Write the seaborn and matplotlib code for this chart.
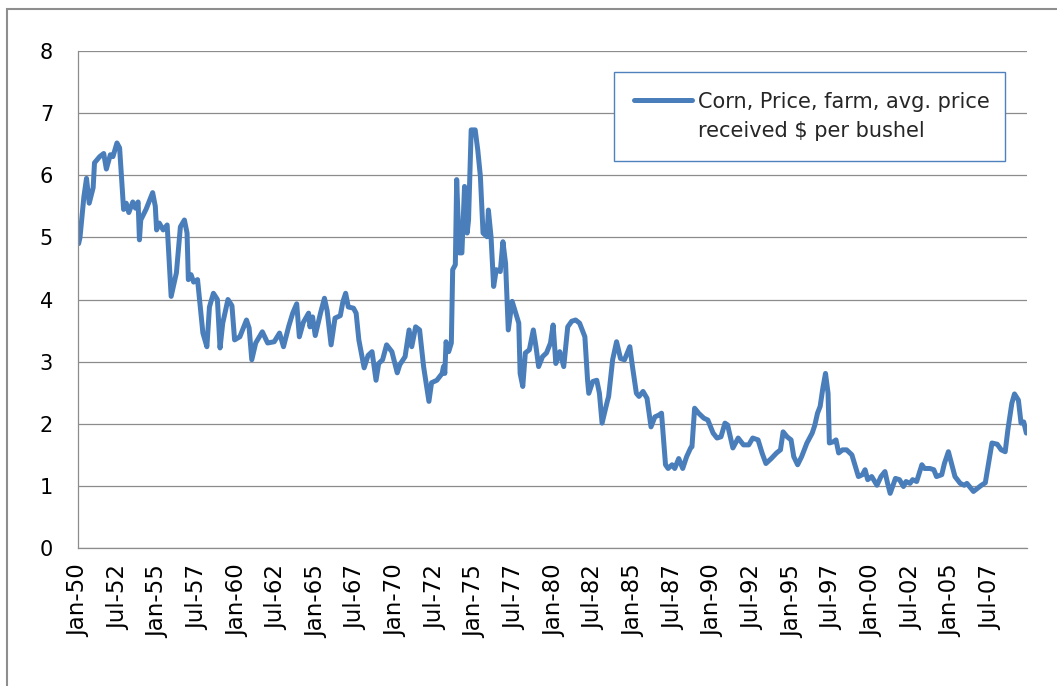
"""Corn farm price, monthly, Jan-1950 onwards, drawn in the old Excel chart look."""

import matplotlib.dates as mdates
import matplotlib.pyplot as plt
import pandas as pd
import seaborn as sns
from matplotlib.lines import Line2D
from matplotlib.patches import Rectangle

LINE_COLOR = "#4A7EBB"
GRID_COLOR = "#8C8C8C"
FONT_SIZE = 15
XTICK_SIZE = 16.5

SERIES_LABEL = ["Corn, Price, farm, avg. price", "received $ per bushel"]

# months since Jan-1950 at each turning point of the traced line
month_idx = [
    0, 1, 4, 6, 8, 11, 12, 16, 19, 21, 24, 26, 29, 31, 34, 36, 38, 41, 43, 45,
    46, 47, 51, 56, 58, 59, 61, 64, 67, 70, 74, 77, 80, 82, 83, 85, 87, 90, 94, 97,
    99, 102, 105, 107, 109, 113, 116, 118, 122, 127, 129, 131, 134, 139, 143, 148, 152, 155, 159, 162,
    165, 167, 170, 174, 175, 177, 179, 183, 186, 188, 191, 194, 198, 200, 202, 204, 208, 210, 212, 216,
    219, 222, 225, 227, 230, 233, 237, 241, 243, 247, 250, 252, 255, 258, 261, 265, 267, 271, 275, 276,
    277, 278, 280, 282, 283, 285, 286, 288, 290, 292, 294, 295, 297, 300, 302, 304, 306, 309, 310, 312,
    314, 316, 319, 321, 323, 325, 328, 330, 333, 334, 336, 338, 341, 344, 346, 348, 351, 354, 357, 359,
    361, 364, 367, 370, 373, 376, 379, 383, 385, 386, 389, 392, 394, 396, 400, 401, 404, 407, 410, 413,
    417, 419, 422, 424, 427, 430, 433, 436, 439, 441, 444, 446, 449, 451, 454, 457, 460, 463, 464, 466,
    469, 473, 476, 480, 483, 486, 489, 491, 495, 499, 503, 507, 510, 514, 517, 520, 524, 528, 531, 533,
    536, 539, 541, 544, 547, 551, 555, 557, 559, 561, 563, 565, 567, 568, 571, 573, 575, 578, 581, 585,
    587, 590, 593, 595, 597, 600, 604, 607, 610, 612, 614, 618, 621, 624, 626, 629, 631, 634, 638, 640,
    644, 647, 649, 653, 655, 658, 660, 663, 667, 670, 672, 674, 677, 680, 683, 686, 689, 691, 695, 698,
    701, 703, 706, 708, 711, 713, 715, 717,
]

price = [
    4.90, 5.00, 5.65, 5.95, 5.55, 5.80, 6.20, 6.30, 6.35, 6.10, 6.33, 6.30, 6.52, 6.44, 5.45, 5.55, 5.40, 5.57, 5.47, 5.57,
    4.96, 5.28, 5.45, 5.72, 5.50, 5.12, 5.23, 5.12, 5.20, 4.05, 4.43, 5.17, 5.28, 5.07, 4.32, 4.40, 4.28, 4.32, 3.46, 3.24,
    3.88, 4.10, 4.00, 3.22, 3.62, 4.00, 3.90, 3.35, 3.40, 3.67, 3.54, 3.03, 3.30, 3.48, 3.30, 3.32, 3.46, 3.24, 3.57, 3.78,
    3.93, 3.40, 3.63, 3.78, 3.56, 3.72, 3.42, 3.78, 4.02, 3.82, 3.27, 3.70, 3.74, 3.97, 4.10, 3.88, 3.86, 3.78, 3.35, 2.90,
    3.10, 3.16, 2.70, 2.97, 3.03, 3.27, 3.16, 2.82, 2.95, 3.08, 3.51, 3.24, 3.56, 3.51, 2.92, 2.36, 2.66, 2.70, 2.81, 2.92,
    2.81, 3.32, 3.16, 3.30, 4.48, 4.56, 5.93, 4.75, 4.75, 5.82, 5.07, 5.28, 6.73, 6.73, 6.41, 5.98, 5.07, 5.01, 5.44, 5.01,
    4.21, 4.48, 4.45, 4.93, 4.58, 3.51, 3.97, 3.83, 3.62, 2.81, 2.60, 3.14, 3.19, 3.51, 3.24, 2.92, 3.08, 3.14, 3.30, 3.59,
    2.97, 3.16, 2.92, 3.56, 3.65, 3.67, 3.62, 3.40, 2.70, 2.49, 2.68, 2.70, 2.49, 2.01, 2.36, 2.44, 3.03, 3.32, 3.05, 3.03,
    3.24, 2.92, 2.49, 2.44, 2.52, 2.41, 1.95, 2.11, 2.14, 2.17, 1.34, 1.28, 1.34, 1.28, 1.44, 1.28, 1.47, 1.61, 1.63, 2.25,
    2.17, 2.09, 2.06, 1.85, 1.77, 1.79, 2.01, 1.98, 1.61, 1.77, 1.66, 1.66, 1.77, 1.74, 1.53, 1.36, 1.44, 1.53, 1.58, 1.87,
    1.79, 1.74, 1.47, 1.34, 1.47, 1.69, 1.85, 1.98, 2.17, 2.28, 2.57, 2.81, 2.49, 1.69, 1.71, 1.74, 1.53, 1.58, 1.58, 1.50,
    1.36, 1.15, 1.18, 1.26, 1.10, 1.15, 1.01, 1.15, 1.23, 1.04, 0.88, 1.12, 1.10, 0.99, 1.07, 1.04, 1.10, 1.07, 1.34, 1.28,
    1.28, 1.26, 1.15, 1.18, 1.36, 1.55, 1.39, 1.15, 1.04, 1.01, 1.04, 0.99, 0.91, 0.96, 1.01, 1.05, 1.44, 1.69, 1.67, 1.58,
    1.55, 1.90, 2.33, 2.48, 2.38, 2.01, 2.03, 1.85,
]

y_ticks = [0, 1, 2, 3, 4, 5, 6, 7, 8]
# category axis: one label every 30 months, first one Jan-50
label_every = 30
n_months = 718


def main():
    assert len(month_idx) == len(price)
    start = pd.Timestamp("1950-01-01")
    df = pd.DataFrame({
        "date": [start + pd.DateOffset(months=m) for m in month_idx],
        "price": price,
    })

    sns.set_theme(style="white")
    plt.rcParams["font.family"] = ["DejaVu Sans"]

    fig = plt.figure(figsize=(10.57, 6.86), dpi=100)
    ax = fig.add_axes([78 / 1057, 1 - 548 / 686, 949 / 1057, 497 / 686])

    sns.lineplot(data=df, x="date", y="price", ax=ax, color=LINE_COLOR,
                 linewidth=3.6, solid_joinstyle="round", solid_capstyle="round")

    ax.set_ylim(0, 8)
    ax.set_yticks(y_ticks)
    ax.set_xlim(start - pd.Timedelta(days=15),
                start + pd.DateOffset(months=n_months - 1) + pd.Timedelta(days=15))
    ticks = [start + pd.DateOffset(months=m) for m in range(0, n_months, label_every)]
    ax.set_xticks(ticks)
    ax.xaxis.set_major_formatter(mdates.DateFormatter("%b-%y"))

    ax.yaxis.grid(True, color=GRID_COLOR, linewidth=0.9)
    ax.xaxis.grid(False)
    for side in ["top", "right"]:
        ax.spines[side].set_visible(False)
    for side in ["left", "bottom"]:
        ax.spines[side].set_color(GRID_COLOR)
        ax.spines[side].set_linewidth(0.9)

    ax.tick_params(axis="y", length=0, pad=18, labelsize=FONT_SIZE, labelcolor="black")
    ax.tick_params(axis="x", length=0, pad=12, labelsize=XTICK_SIZE, labelcolor="black",
                   rotation=90)
    ax.set_xlabel("")
    ax.set_ylabel("")

    handles = [
        Line2D([], [], color=LINE_COLOR, linewidth=3.6),
        Line2D([], [], color="none"),
    ]
    leg = ax.legend(handles, SERIES_LABEL, loc="upper left",
                    bbox_to_anchor=(0.565, 0.765, 0.412, 0.193), mode="expand",
                    borderaxespad=0, borderpad=0.95, handlelength=2.8,
                    handletextpad=0.25, labelspacing=0.45, fontsize=FONT_SIZE,
                    frameon=True, fancybox=False, framealpha=1)
    leg.get_frame().set_edgecolor("#4F81BD")
    leg.get_frame().set_linewidth(1.0)

    # chart area border (only its left and top edges are inside the picture)
    fig.patches.append(Rectangle((7 / 1057, -0.1), 1.2, 1.1 - 9 / 686,
                                 transform=fig.transFigure, fill=False,
                                 edgecolor="#8E8E8E", linewidth=1.5))

    fig.savefig("out.png", dpi=100)
    plt.close(fig)


if __name__ == "__main__":
    main()
